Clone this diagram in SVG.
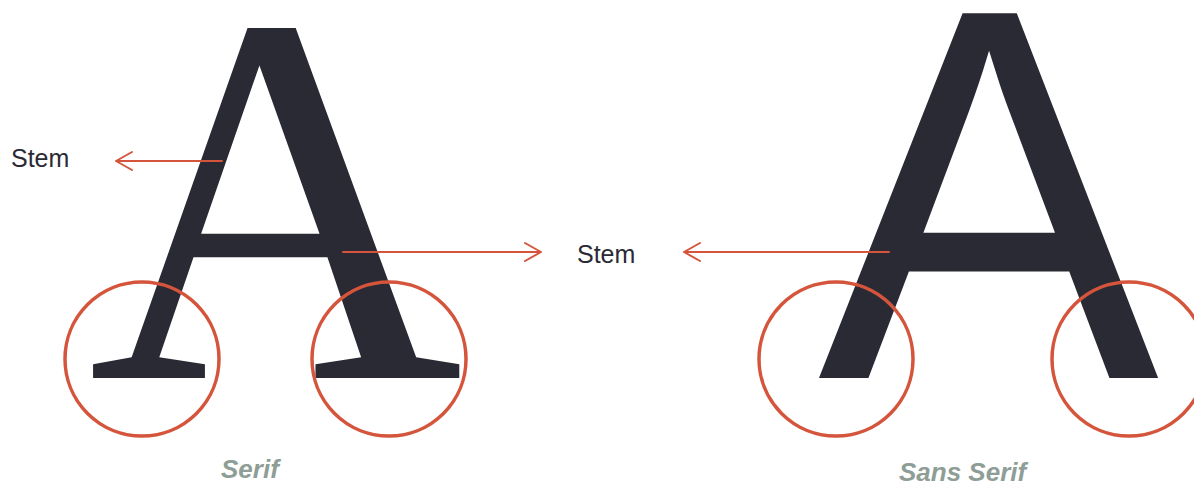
<svg xmlns="http://www.w3.org/2000/svg" width="1194" height="487" viewBox="0 0 1194 487">
<style>
.glyph{fill:#2a2a35}
.lbl{font-family:"Liberation Sans",Arial,sans-serif;font-size:25px;fill:#2a2a35}
.cap{font-family:"Liberation Sans",Arial,sans-serif;font-size:26px;font-weight:bold;font-style:italic;fill:#8e9e96}
.ring{fill:none;stroke:#d4553b;stroke-width:3.5}
.arr{fill:none;stroke:#d4553b;stroke-width:2;stroke-linecap:round;stroke-linejoin:round}
</style>
<rect width="1194" height="487" fill="#ffffff"/>
<g id="serif-a">
<text class="glyph" x="0" y="0" transform="translate(88 378) scale(0.98 1)" font-family="'Liberation Serif','Times New Roman',serif" font-size="530">A</text>
</g>
<g id="sans-a">
<text class="glyph" x="0" y="0" transform="translate(818 378) scale(0.965 1)" font-family="'Liberation Sans',Arial,sans-serif" font-size="530">A</text>
</g>
<g id="circles">
<circle class="ring" cx="142" cy="359" r="77"/>
<circle class="ring" cx="389" cy="359" r="77"/>
<circle class="ring" cx="836" cy="359" r="77"/>
<circle class="ring" cx="1129" cy="359" r="77"/>
</g>
<g id="connectors">
<path class="arr" d="M222,161 H116 M132,152 L116,161 L132,170"/>
<path class="arr" d="M343,252 H541 M525,243 L541,252 L525,261"/>
<path class="arr" d="M889,252 H684 M700,243 L684,252 L700,261"/>
</g>
<g id="labels">
<text class="lbl" x="11" y="167">Stem</text>
<text class="lbl" x="577" y="263">Stem</text>
<text class="cap" x="221" y="478">Serif</text>
<text class="cap" x="899" y="481">Sans Serif</text>
</g>
</svg>
